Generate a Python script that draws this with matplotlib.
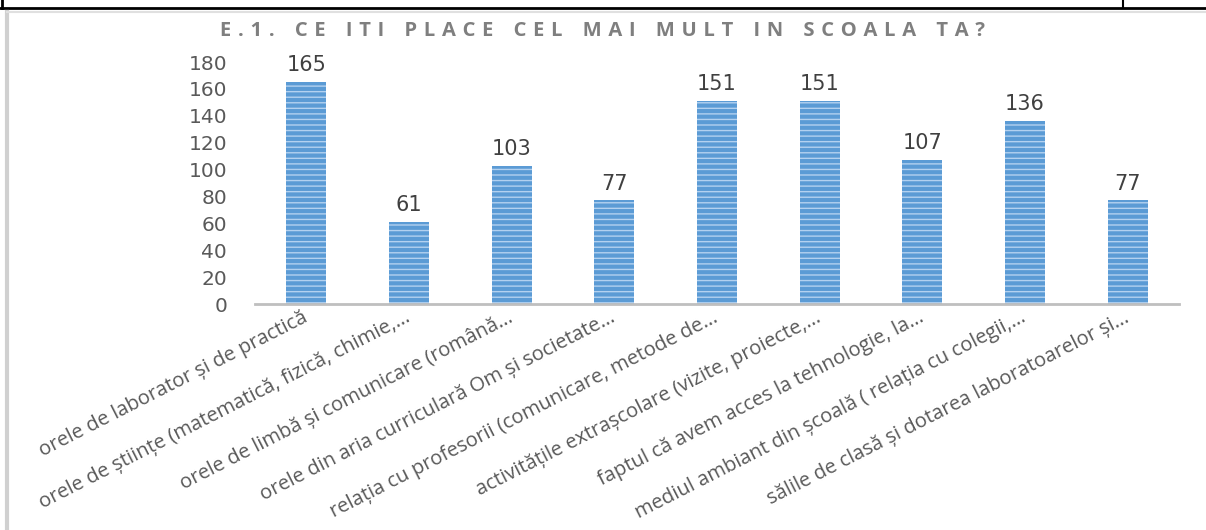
import numpy as np
import matplotlib
matplotlib.use('Agg')
import matplotlib.pyplot as plt
from matplotlib.lines import Line2D

# Data
categories = [
    'orele de laborator și de practică',
    'orele de științe (matematică, fizică, chimie,…',
    'orele de limbă și comunicare (română…',
    'orele din aria curriculară Om și societate…',
    'relația cu profesorii (comunicare, metode de…',
    'activitățile extrașcolare (vizite, proiecte,…',
    'faptul că avem acces la tehnologie, la…',
    'mediul ambiant din școală ( relația cu colegii,…',
    'sălile de clasă și dotarea laboratoarelor și…',
]
values = [165, 61, 103, 77, 151, 151, 107, 136, 77]
yticks = [0, 20, 40, 60, 80, 100, 120, 140, 160, 180]
title = 'E.1. CE ITI PLACE CEL MAI MULT IN SCOALA TA?'

plt.rcParams['font.family'] = ['Open Sans', 'DejaVu Sans']
plt.rcParams['hatch.linewidth'] = 1.0

fig = plt.figure(figsize=(12.06, 5.30), dpi=100)
ax = fig.add_axes([0.2114, 0.4264, 0.7662, 0.4566])

x = np.arange(len(categories))
bars = ax.bar(x, values, width=0.39, color='#5b9bd5', edgecolor='#b3d1f0',
              linewidth=0, hatch='---')

# value labels
for b, v in zip(bars, values):
    ax.text(b.get_x() + b.get_width() / 2, v + 5, str(v), ha='center',
            va='bottom', fontsize=15, color='#404040', family='DejaVu Sans')

ax.set_xlim(-0.5, len(categories) - 0.5)
ax.set_ylim(0, 180)
ax.set_yticks(yticks)
ax.set_yticklabels([str(t) for t in yticks], fontsize=14.5, color='#595959',
                   family='DejaVu Sans')
ax.tick_params(axis='y', length=0, pad=20)
ax.set_xticks(x)
ax.set_xticklabels(categories, rotation=27, ha='right', va='center',
                   rotation_mode='anchor', fontsize=14.5, color='#595959')
ax.tick_params(axis='x', length=0, pad=9)

for s in ['top', 'right', 'left']:
    ax.spines[s].set_visible(False)
ax.spines['bottom'].set_color('#bfbfbf')
ax.spines['bottom'].set_linewidth(2)

# spaced-out title (three-per-em spaces between letters, wider between words)
gap = '\u2004'
spaced = (gap * 3).join(gap.join(w) for w in title.split(' '))
fig.text(0.5, 0.942, spaced, ha='center', va='center', fontsize=14.5,
         fontweight='bold', color='#7f7f7f')

# document frame bits
fig.add_artist(Line2D([0, 1], [1 - 8 / 530] * 2, color='black', lw=2))
fig.add_artist(Line2D([2 / 1206] * 2, [1 - 8 / 530, 1], color='black', lw=2))
fig.add_artist(Line2D([1123 / 1206] * 2, [1 - 8 / 530, 1], color='black', lw=1.5))
fig.add_artist(Line2D([7 / 1206] * 2, [0, 1 - 12 / 530], color='#d0d0d0', lw=3))
fig.add_artist(Line2D([7 / 1206, 1], [1 - 12 / 530] * 2, color='#e0e0e0', lw=1.5))

fig.savefig('out.png', dpi=100)
